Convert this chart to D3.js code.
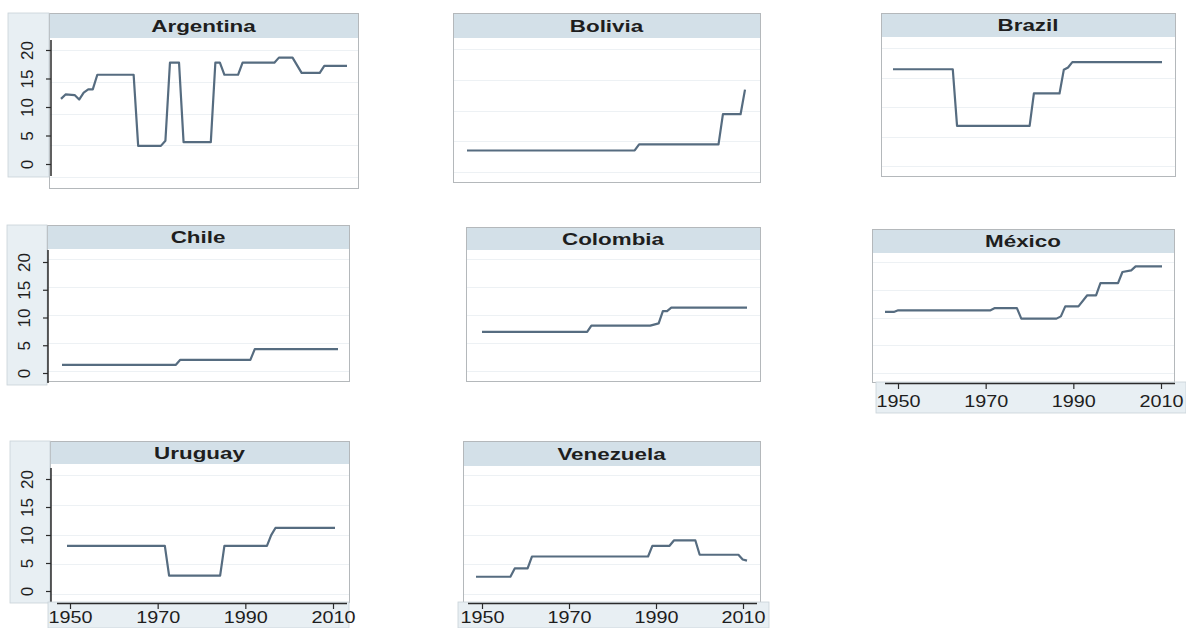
<!DOCTYPE html>
<html>
<head>
<meta charset="utf-8">
<script src="https://cdn.jsdelivr.net/npm/d3@7"></script>
<style>
  html, body { margin: 0; background: #ffffff; }
  svg { display: block; font-family: "Liberation Sans", Arial, sans-serif; }
</style>
</head>
<body>
<svg id="chart" width="1186" height="628"></svg>
<script>
// ---- data: [year, value] vertices of each country's series ----
const countries = ["Argentina", "Bolivia", "Brazil", "Chile", "Colombia", "México", "Uruguay", "Venezuela"];

const argentina = [[1947,12.3],[1948,13.0],[1950,12.9],[1951,12.2],[1952,13.3],[1953,13.8],[1954,13.8],[1955,16.1],
  [1963,16.1],[1964,4.9],[1969,4.9],[1970,5.7],[1971,18.0],[1973,18.0],[1974,5.5],[1980,5.5],[1981,18.0],
  [1982,18.0],[1983,16.1],[1986,16.1],[1987,18.0],[1994,18.0],[1995,18.8],[1998,18.8],[2000,16.4],
  [2004,16.4],[2005,17.5],[2010,17.5]];
const bolivia = [[1947,3.5],[1985,3.5],[1986,4.5],[2004,4.5],[2005,9.4],[2009,9.4],[2010,13.4]];
const brazil = [[1947,16.4],[1961,16.4],[1962,6.8],[1979,6.8],[1980,12.3],[1986,12.3],[1987,16.3],
  [1988,16.7],[1989,17.6],[2010,17.6]];
const chile = [[1947,1.1],[1973,1.1],[1974,2.0],[1990,2.0],[1991,3.9],[2010,3.9]];
const colombia = [[1947,7.0],[1972,7.0],[1973,8.1],[1987,8.1],[1989,8.5],[1990,10.7],[1991,10.7],
  [1992,11.3],[2010,11.3]];
const mexico = [[1947,11.0],[1949,11.0],[1950,11.3],[1971,11.3],[1972,11.7],[1977,11.7],[1978,9.8],
  [1986,9.8],[1987,10.2],[1988,12.0],[1991,12.0],[1993,14.0],[1995,14.0],[1996,16.2],[2000,16.2],
  [2001,18.2],[2003,18.5],[2004,19.2],[2010,19.2]];
const uruguay = [[1947,8.1],[1970,8.1],[1971,3.1],[1983,3.1],[1984,8.1],[1994,8.1],[1995,9.9],
  [1996,11.1],[2010,11.1]];
const venezuela = [[1947,2.9],[1955,2.9],[1956,4.3],[1959,4.3],[1960,6.3],[1987,6.3],[1988,8.1],
  [1992,8.1],[1993,9.0],[1998,9.0],[1999,6.6],[2008,6.6],[2009,5.8],[2010,5.6]];

const seriesList = [argentina, bolivia, brazil, chile, colombia, mexico, uruguay, venezuela];

const yTicks = [0, 5, 10, 15, 20];
const xTicks = [1950, 1970, 1990, 2010];

// ---- layout ----
// box: [x0, y0, x1, y1] of header + plot; xr: pixel span of the series; yr: pixel span of 0..20
const panelLayout = [
  { box: [49, 13, 358, 188],   head: 24, xr: [61, 347],   yr: [177, 50] },
  { box: [453, 13, 760, 182],  head: 24, xr: [467, 745],  yr: [172, 49] },
  { box: [881, 13, 1175, 176], head: 23, xr: [893, 1162], yr: [166, 48] },
  { box: [47, 225, 349, 381],  head: 23, xr: [62, 338],   yr: [371, 259] },
  { box: [466, 227, 760, 381], head: 22, xr: [482, 747],  yr: [371, 259] },
  { box: [872, 229, 1174, 382],head: 23, xr: [885, 1162], yr: [373, 262] },
  { box: [50, 441, 349, 602],  head: 22, xr: [67, 335],   yr: [594, 475] },
  { box: [463, 441, 760, 602], head: 24, xr: [476, 747],  yr: [594, 475] }
];

const yStrips = [
  { box: [8, 13, 49, 177],  axisX: 51, axisY: [40, 176],  yr: [164, 50] },
  { box: [7, 225, 47, 385], axisX: 48, axisY: [250, 383], yr: [373, 262] },
  { box: [10, 441, 50, 603],axisX: 51, axisY: [468, 603], yr: [591, 479] }
];

const xStrips = [
  { box: [876, 382, 1186, 413], axisY: 383, axisX: [885, 1175], xr: [898, 1161], labelY: 407 },
  { box: [48, 602, 349, 628],   axisY: 603, axisX: [57, 347],   xr: [70, 333],   labelY: 623 },
  { box: [458, 602, 769, 628],  axisY: 603, axisX: [468, 757],  xr: [482, 743],  labelY: 623 }
];

const COL = {
  header: "#d3e0e8",
  strip: "#e8eff3",
  border: "#b4b8bb",
  grid: "#edf1f4",
  line: "#566c80",
  axis: "#2b2b2b",
  text: "#1e1e1e"
};

const svg = d3.select("#chart");

// ---- panels ----
countries.forEach((name, i) => {
  const L = panelLayout[i];
  const data = seriesList[i];
  const [x0, y0, x1, y1] = L.box;
  const g = svg.append("g").attr("class", "panel");

  const x = d3.scaleLinear().domain(d3.extent(data, d => d[0])).range(L.xr);
  const y = d3.scaleLinear().domain(d3.extent(yTicks)).range(L.yr);

  g.append("rect")
    .attr("x", x0 + 0.5).attr("y", y0 + 0.5)
    .attr("width", x1 - x0).attr("height", y1 - y0)
    .attr("fill", "#ffffff").attr("stroke", COL.border).attr("stroke-width", 1);

  g.append("g").selectAll("line").data(yTicks).join("line")
    .attr("x1", x0 + 1).attr("x2", x1)
    .attr("y1", d => Math.round(y(d)) + 0.5).attr("y2", d => Math.round(y(d)) + 0.5)
    .attr("stroke", COL.grid).attr("stroke-width", 1.2);

  g.append("rect")
    .attr("x", x0 + 1).attr("y", y0 + 1)
    .attr("width", x1 - x0 - 1).attr("height", L.head)
    .attr("fill", COL.header);

  g.append("text")
    .attr("transform", `translate(${(x0 + x1) / 2},${y0 + L.head / 2 + 6.5}) scale(1.4,1)`)
    .attr("text-anchor", "middle")
    .attr("font-size", 16).attr("font-weight", "bold")
    .attr("fill", COL.text)
    .text(name);

  g.append("path")
    .datum(data)
    .attr("fill", "none")
    .attr("stroke", COL.line)
    .attr("stroke-width", 2.2)
    .attr("stroke-linejoin", "round")
    .attr("d", d3.line().x(d => x(d[0])).y(d => y(d[1])));
});

// ---- y-axis strips (one per row) ----
yStrips.forEach(s => {
  const [x0, y0, x1, y1] = s.box;
  const g = svg.append("g");
  g.append("rect").attr("x", x0).attr("y", y0).attr("width", x1 - x0).attr("height", y1 - y0)
    .attr("fill", COL.strip).attr("stroke", "#c9d2d8").attr("stroke-width", 0.8);

  const y = d3.scaleLinear().domain(d3.extent(yTicks)).range(s.yr);
  const ax = g.append("g").attr("transform", `translate(${s.axisX},0)`)
    .call(d3.axisLeft(y).tickValues(yTicks).tickSize(5).tickSizeOuter(0));
  ax.select(".domain").remove();
  ax.selectAll(".tick line").attr("stroke", COL.axis).attr("stroke-width", 1.2);
  ax.selectAll(".tick text")
    .attr("x", null).attr("dy", null)
    .attr("transform", "translate(-24,0) rotate(-90)")
    .attr("text-anchor", "middle")
    .attr("dominant-baseline", "central")
    .attr("font-size", 17)
    .attr("font-family", "Liberation Sans, Arial, sans-serif")
    .attr("fill", COL.text);

  g.append("line")
    .attr("x1", s.axisX).attr("x2", s.axisX)
    .attr("y1", s.axisY[0]).attr("y2", s.axisY[1])
    .attr("stroke", COL.axis).attr("stroke-width", 1.5);
});

// ---- x-axis strips (bottom of each column) ----
xStrips.forEach(s => {
  const [x0, y0, x1, y1] = s.box;
  const g = svg.append("g");
  g.append("rect").attr("x", x0).attr("y", y0).attr("width", x1 - x0).attr("height", y1 - y0)
    .attr("fill", COL.strip).attr("stroke", "#c9d2d8").attr("stroke-width", 0.8);

  const x = d3.scaleLinear().domain(d3.extent(xTicks)).range(s.xr);
  const ax = g.append("g").attr("transform", `translate(0,${s.axisY})`)
    .call(d3.axisBottom(x).tickValues(xTicks).tickFormat(d3.format("d")).tickSize(6).tickSizeOuter(0));
  ax.select(".domain").remove();
  ax.selectAll(".tick line").attr("stroke", COL.axis).attr("stroke-width", 1.2);
  ax.selectAll(".tick text")
    .attr("y", null).attr("dy", null)
    .attr("transform", `translate(0,${s.labelY - s.axisY}) scale(1.2,1)`)
    .attr("text-anchor", "middle")
    .attr("font-size", 16.5)
    .attr("font-family", "Liberation Sans, Arial, sans-serif")
    .attr("fill", COL.text);

  g.append("line")
    .attr("x1", s.axisX[0]).attr("x2", s.axisX[1])
    .attr("y1", s.axisY + 0.5).attr("y2", s.axisY + 0.5)
    .attr("stroke", COL.axis).attr("stroke-width", 1.3);
});
</script>
</body>
</html>
